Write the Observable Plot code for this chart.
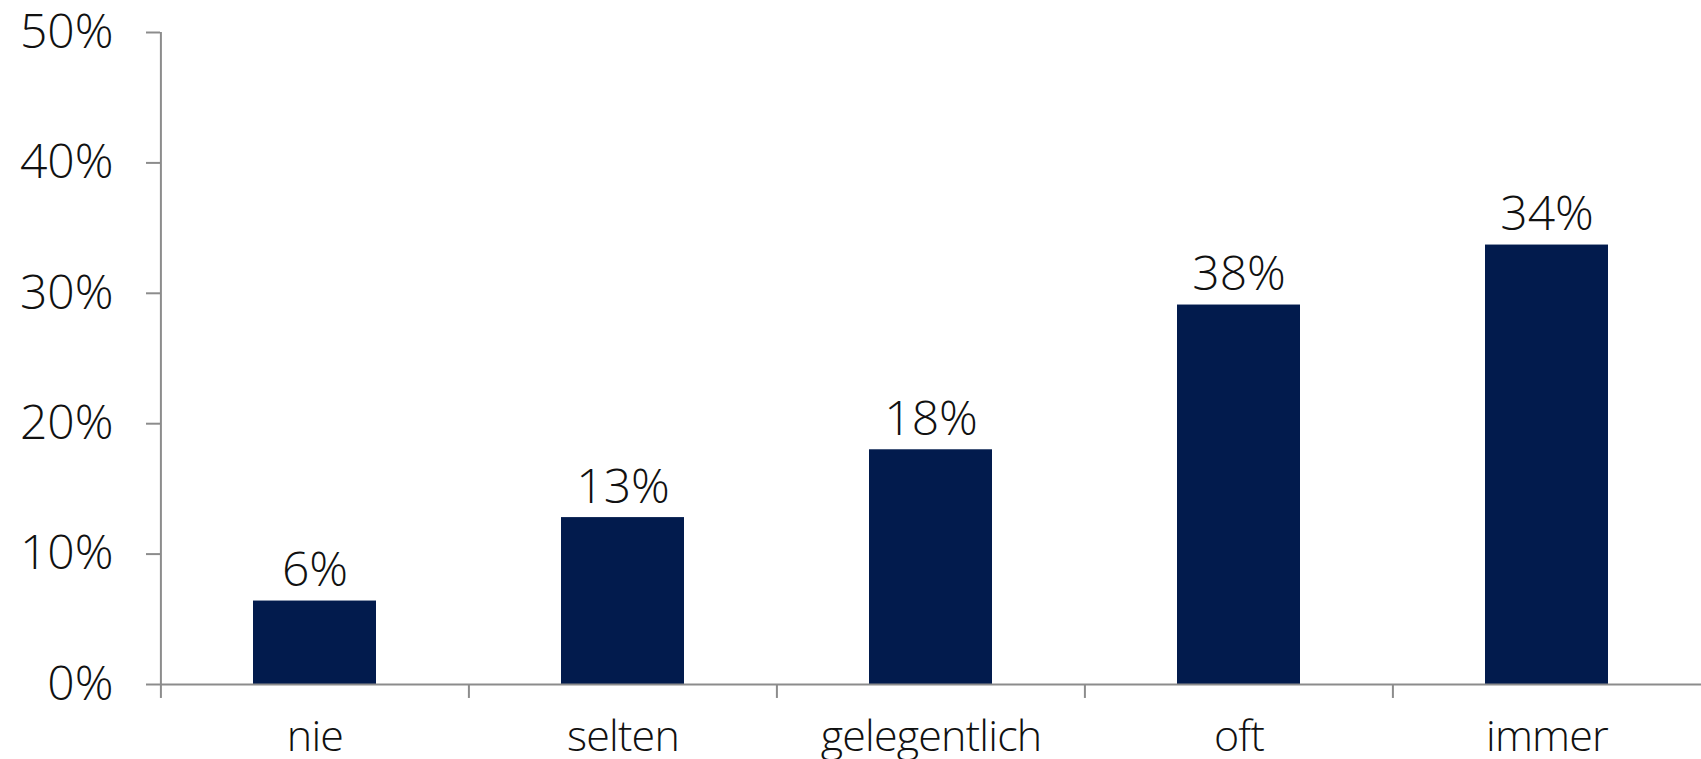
<!DOCTYPE html>
<html>
<head>
<meta charset="utf-8">
<script src="https://cdn.jsdelivr.net/npm/d3@7"></script>
<script src="https://cdn.jsdelivr.net/npm/@observablehq/plot@0.6"></script>
<style>
  html, body { margin: 0; padding: 0; background: #fff; }
  #chart svg { display: block; }
  #chart g[aria-label="x-axis tick label"] text { letter-spacing: -0.8px; }
</style>
</head>
<body>
<div id="chart"></div>
<script>
// Data
const categories = ["nie", "selten", "gelegentlich", "oft", "immer"];
const values = [6.4, 12.8, 18.0, 29.1, 33.7];
const valueLabels = ["6%", "13%", "18%", "38%", "34%"];
const yTicks = [0, 10, 20, 30, 40, 50];

const data = categories.map((c, i) => ({cat: c, value: values[i], label: valueLabels[i]}));

const W = 1701, H = 759;
const marginLeft = 160, marginRight = 0, marginTop = 32, marginBottom = 75;
const bandHalf = (W - marginLeft - marginRight) / categories.length / 2;
const axisColor = "#8c8c8c";
const barColor = "#021b4d";
const font = "'Open Sans', sans-serif";

const plot = Plot.plot({
  width: W,
  height: H,
  marginLeft, marginRight, marginTop, marginBottom,
  style: {fontFamily: font, fontSize: "48px", fontWeight: 300, color: "#111", background: "#fff"},
  x: {domain: categories, paddingInner: 0.6, paddingOuter: 0.3, label: null},
  y: {domain: [0, 50], label: null},
  marks: [
    Plot.barY(data, {x: "cat", y: "value", fill: barColor}),
    Plot.text(data, {x: "cat", y: "value", text: "label", lineAnchor: "bottom", dy: -15, fontSize: 48, fontWeight: 300, fill: "#111"}),
    // x axis line
    Plot.ruleY([0], {stroke: axisColor, strokeWidth: 2}),
    // y axis line
    Plot.ruleX([categories[0]], {y1: 0, y2: 50, dx: -bandHalf, stroke: axisColor, strokeWidth: 2}),
    // x tick marks at band boundaries
    Plot.ruleX(categories, {y1: 0, y2: -1.07, dx: -bandHalf, stroke: axisColor, strokeWidth: 2}),
    Plot.axisY({ticks: yTicks, tickFormat: d => d + "%", tickSize: 14, tickPadding: 33, stroke: axisColor, strokeWidth: 2, fontSize: 48, fontWeight: 300, fill: "#111"}),
    Plot.axisX({tickSize: 0, tickPadding: 36, fontSize: 43, fontWeight: 300, fill: "#111"})
  ]
});
document.getElementById("chart").appendChild(plot);
</script>
</body>
</html>
